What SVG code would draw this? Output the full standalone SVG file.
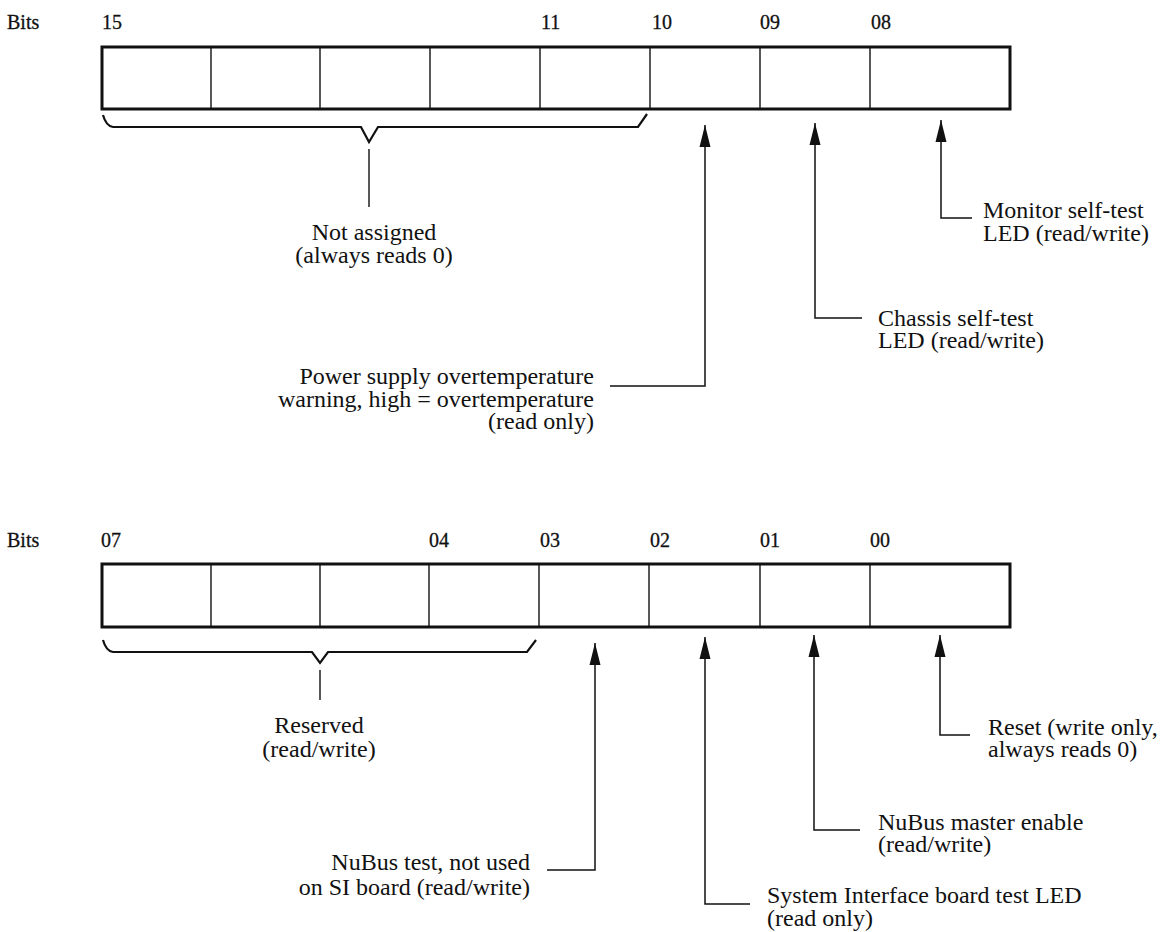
<svg xmlns="http://www.w3.org/2000/svg" width="1165" height="932" viewBox="0 0 1165 932">
  <style>
    .lbl { font-family: "Liberation Serif", "Times New Roman", serif; font-size: 24px; fill: #111; }
    .bit { font-family: "Liberation Serif", "Times New Roman", serif; font-size: 20px; fill: #111; stroke: #111; stroke-width: 0.3; }
    .bits { font-family: "Liberation Serif", "Times New Roman", serif; font-size: 20px; fill: #111; stroke: #111; stroke-width: 0.3; }
    .frame { fill: #fff; stroke: #111; stroke-width: 3; }
    .div { stroke: #111; stroke-width: 1.4; }
    .brace { fill: none; stroke: #111; stroke-width: 2.2; stroke-linejoin: miter; }
    .stem { stroke: #111; stroke-width: 1.4; }
    .lead { fill: none; stroke: #111; stroke-width: 1.5; marker-start: url(#head); }
    .end { text-anchor: end; }
    .mid { text-anchor: middle; }
  </style>
  <defs>
    <marker id="head" markerUnits="userSpaceOnUse" markerWidth="24" markerHeight="14" refX="22" refY="0" viewBox="0 -7 24 14" orient="auto-start-reverse">
      <path d="M0,-5.5 L22,0 L0,5.5 Z" fill="#111"/>
    </marker>
  </defs>
  <rect width="1165" height="932" fill="#fff"/>

  <!-- upper byte: bits 15..08 -->
  <g id="reg-high">
    <text class="bits" x="7" y="29">Bits</text>
    <text class="bit" x="102" y="29">15</text>
    <text class="bit" x="541" y="29">11</text>
    <text class="bit" x="652" y="29">10</text>
    <text class="bit" x="760" y="29">09</text>
    <text class="bit" x="871" y="29">08</text>
    <rect class="frame" x="102" y="47" width="908" height="62"/>
    <line class="div" x1="211" y1="47" x2="211" y2="109"/>
    <line class="div" x1="320" y1="47" x2="320" y2="109"/>
    <line class="div" x1="430" y1="47" x2="430" y2="109"/>
    <line class="div" x1="540" y1="47" x2="540" y2="109"/>
    <line class="div" x1="650" y1="47" x2="650" y2="109"/>
    <line class="div" x1="760" y1="47" x2="760" y2="109"/>
    <line class="div" x1="870" y1="47" x2="870" y2="109"/>
  </g>

  <g id="not-assigned">
    <path class="brace" d="M103,115 Q106,126 113,127 L361,127 L369,142 L378,127 L638,127 L647,114"/>
    <line class="stem" x1="369" y1="149" x2="369" y2="207"/>
    <text class="lbl mid" x="374" y="240">Not assigned</text>
    <text class="lbl mid" x="374" y="263">(always reads 0)</text>
  </g>

  <g id="power-supply">
    <text class="lbl end" x="594" y="384">Power supply overtemperature</text>
    <text class="lbl end" x="594" y="407">warning, high = overtemperature</text>
    <text class="lbl end" x="594" y="429">(read only)</text>
  </g>

  <g id="chassis-led">
    <text class="lbl" x="878" y="326">Chassis self-test</text>
    <text class="lbl" x="878" y="348">LED (read/write)</text>
  </g>

  <g id="monitor-led">
    <text class="lbl" x="983" y="218">Monitor self-test</text>
    <text class="lbl" x="983" y="241">LED (read/write)</text>
  </g>

  <!-- lower byte: bits 07..00 -->
  <g id="reg-low">
    <text class="bits" x="7" y="547">Bits</text>
    <text class="bit" x="101" y="547">07</text>
    <text class="bit" x="429" y="547">04</text>
    <text class="bit" x="540" y="547">03</text>
    <text class="bit" x="650" y="547">02</text>
    <text class="bit" x="760" y="547">01</text>
    <text class="bit" x="870" y="547">00</text>
    <rect class="frame" x="102" y="564" width="908" height="63"/>
    <line class="div" x1="211" y1="564" x2="211" y2="627"/>
    <line class="div" x1="320" y1="564" x2="320" y2="627"/>
    <line class="div" x1="429" y1="564" x2="429" y2="627"/>
    <line class="div" x1="539" y1="564" x2="539" y2="627"/>
    <line class="div" x1="649" y1="564" x2="649" y2="627"/>
    <line class="div" x1="760" y1="564" x2="760" y2="627"/>
    <line class="div" x1="870" y1="564" x2="870" y2="627"/>
  </g>

  <g id="reserved">
    <path class="brace" d="M103,640 Q106,651 113,652 L312,652 L320,663 L328,652 L527,652 L536,640"/>
    <line class="stem" x1="320" y1="670" x2="320" y2="700"/>
    <text class="lbl mid" x="319" y="733">Reserved</text>
    <text class="lbl mid" x="319" y="757">(read/write)</text>
  </g>

  <g id="nubus-test">
    <text class="lbl end" x="530" y="870">NuBus test, not used</text>
    <text class="lbl end" x="530" y="895">on SI board (read/write)</text>
  </g>

  <g id="si-led">
    <text class="lbl" x="767" y="903">System Interface board test LED</text>
    <text class="lbl" x="767" y="926">(read only)</text>
  </g>

  <g id="master-enable">
    <text class="lbl" x="878" y="830">NuBus master enable</text>
    <text class="lbl" x="878" y="852">(read/write)</text>
  </g>

  <g id="reset">
    <text class="lbl" x="988" y="735">Reset (write only,</text>
    <text class="lbl" x="988" y="757">always reads 0)</text>
  </g>

  <!-- leader lines with arrowheads pointing at the bit cells -->
  <g id="connectors">
    <path class="lead" d="M705,125 L705,386 L610,386"/>
    <path class="lead" d="M815,123 L815,318 L862,318"/>
    <path class="lead" d="M941,120 L941,218 L972,218"/>
    <path class="lead" d="M595,643 L595,870 L547,870"/>
    <path class="lead" d="M705,637 L705,904 L750,904"/>
    <path class="lead" d="M814,635 L814,830 L860,830"/>
    <path class="lead" d="M940,635 L940,735 L970,735"/>
  </g>
</svg>
